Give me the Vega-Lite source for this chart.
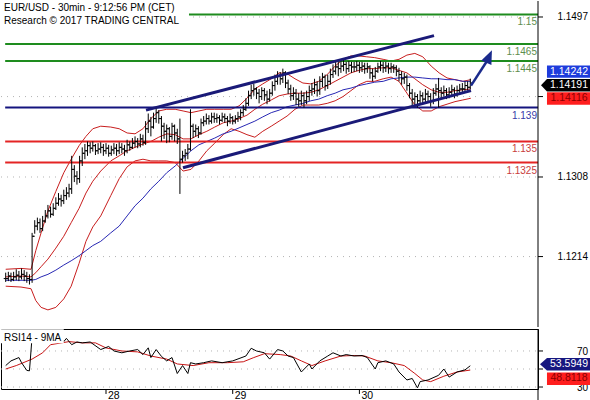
{
  "$schema": "https://vega.github.io/schema/vega-lite/v6.json",
  "padding": 0,
  "spacing": 0,
  "background": "white",
  "config": {"view": {"stroke": null}, "font": "Liberation Sans", "text": {"font": "Liberation Sans"}},
  "datasets": {
    "bars": [
      {"t":5,"o":1.1188,"h":1.1195,"l":1.1184,"c":1.1188},
      {"t":5.5,"o":1.1188,"h":1.1196,"l":1.1185,"c":1.1191},
      {"t":6,"o":1.1191,"h":1.1195,"l":1.1184,"c":1.1187},
      {"t":6.5,"o":1.1187,"h":1.1196,"l":1.1185,"c":1.1190},
      {"t":7,"o":1.1190,"h":1.1199,"l":1.1186,"c":1.1192},
      {"t":7.5,"o":1.1192,"h":1.1197,"l":1.1185,"c":1.1190},
      {"t":8,"o":1.1190,"h":1.1200,"l":1.1187,"c":1.1193},
      {"t":8.5,"o":1.1193,"h":1.1198,"l":1.1185,"c":1.1191},
      {"t":9,"o":1.1191,"h":1.1196,"l":1.1183,"c":1.1188},
      {"t":9.5,"o":1.1188,"h":1.1193,"l":1.1181,"c":1.1187},
      {"t":10,"o":1.1187,"h":1.1242,"l":1.1183,"c":1.1238},
      {"t":10.5,"o":1.1238,"h":1.1257,"l":1.1241,"c":1.1250},
      {"t":11,"o":1.1250,"h":1.1260,"l":1.1245,"c":1.1254},
      {"t":11.5,"o":1.1254,"h":1.1259,"l":1.1242,"c":1.1247},
      {"t":12,"o":1.1247,"h":1.1262,"l":1.1244,"c":1.1256},
      {"t":12.5,"o":1.1256,"h":1.1269,"l":1.1254,"c":1.1262},
      {"t":13,"o":1.1262,"h":1.1275,"l":1.1259,"c":1.1268},
      {"t":13.5,"o":1.1268,"h":1.1273,"l":1.1260,"c":1.1264},
      {"t":14,"o":1.1264,"h":1.1277,"l":1.1262,"c":1.1271},
      {"t":14.5,"o":1.1271,"h":1.1284,"l":1.1269,"c":1.1277},
      {"t":15,"o":1.1277,"h":1.1289,"l":1.1274,"c":1.1282},
      {"t":15.5,"o":1.1282,"h":1.1287,"l":1.1273,"c":1.1280},
      {"t":16,"o":1.1280,"h":1.1293,"l":1.1276,"c":1.1286},
      {"t":16.5,"o":1.1286,"h":1.1296,"l":1.1281,"c":1.1289},
      {"t":17,"o":1.1289,"h":1.1300,"l":1.1284,"c":1.1294},
      {"t":17.5,"o":1.1294,"h":1.1333,"l":1.1288,"c":1.1317},
      {"t":18,"o":1.1317,"h":1.1322,"l":1.1302,"c":1.1309},
      {"t":18.5,"o":1.1309,"h":1.1315,"l":1.1299,"c":1.1306},
      {"t":19,"o":1.1306,"h":1.1333,"l":1.1301,"c":1.1327},
      {"t":19.5,"o":1.1327,"h":1.1343,"l":1.1321,"c":1.1336},
      {"t":20,"o":1.1336,"h":1.1347,"l":1.1329,"c":1.1339},
      {"t":20.5,"o":1.1339,"h":1.1350,"l":1.1333,"c":1.1345},
      {"t":21,"o":1.1345,"h":1.1349,"l":1.1336,"c":1.1342},
      {"t":21.5,"o":1.1342,"h":1.1350,"l":1.1338,"c":1.1345},
      {"t":22,"o":1.1345,"h":1.1347,"l":1.1334,"c":1.1339},
      {"t":22.5,"o":1.1339,"h":1.1348,"l":1.1335,"c":1.1341},
      {"t":23,"o":1.1341,"h":1.1349,"l":1.1336,"c":1.1343},
      {"t":23.5,"o":1.1343,"h":1.1347,"l":1.1333,"c":1.1339},
      {"t":24,"o":1.1339,"h":1.1348,"l":1.1335,"c":1.1342},
      {"t":24.5,"o":1.1342,"h":1.1346,"l":1.1332,"c":1.1336},
      {"t":25,"o":1.1336,"h":1.1345,"l":1.1333,"c":1.1340},
      {"t":25.5,"o":1.1340,"h":1.1348,"l":1.1335,"c":1.1342},
      {"t":26,"o":1.1342,"h":1.1347,"l":1.1333,"c":1.1339},
      {"t":26.5,"o":1.1339,"h":1.1349,"l":1.1335,"c":1.1343},
      {"t":27,"o":1.1343,"h":1.1348,"l":1.1336,"c":1.1341},
      {"t":27.5,"o":1.1341,"h":1.1346,"l":1.1333,"c":1.1339},
      {"t":28,"o":1.1339,"h":1.1352,"l":1.1336,"c":1.1346},
      {"t":28.5,"o":1.1346,"h":1.1350,"l":1.1339,"c":1.1343},
      {"t":29,"o":1.1343,"h":1.1354,"l":1.1341,"c":1.1348},
      {"t":29.5,"o":1.1348,"h":1.1356,"l":1.1343,"c":1.1350},
      {"t":30,"o":1.1350,"h":1.1354,"l":1.1342,"c":1.1347},
      {"t":30.5,"o":1.1347,"h":1.1359,"l":1.1343,"c":1.1353},
      {"t":31,"o":1.1353,"h":1.1358,"l":1.1345,"c":1.1349},
      {"t":31.5,"o":1.1349,"h":1.1374,"l":1.1346,"c":1.1365},
      {"t":32,"o":1.1365,"h":1.1383,"l":1.1360,"c":1.1374},
      {"t":32.5,"o":1.1374,"h":1.1379,"l":1.1356,"c":1.1367},
      {"t":33,"o":1.1367,"h":1.1384,"l":1.1365,"c":1.1377},
      {"t":33.5,"o":1.1377,"h":1.1390,"l":1.1372,"c":1.1384},
      {"t":34,"o":1.1384,"h":1.1387,"l":1.1371,"c":1.1377},
      {"t":34.5,"o":1.1377,"h":1.1380,"l":1.1350,"c":1.1368},
      {"t":35,"o":1.1368,"h":1.1372,"l":1.1353,"c":1.1362},
      {"t":35.5,"o":1.1362,"h":1.1370,"l":1.1348,"c":1.1365},
      {"t":36,"o":1.1365,"h":1.1367,"l":1.1349,"c":1.1356},
      {"t":36.5,"o":1.1356,"h":1.1372,"l":1.1352,"c":1.1368},
      {"t":37,"o":1.1368,"h":1.1370,"l":1.1350,"c":1.1360},
      {"t":37.5,"o":1.1360,"h":1.1365,"l":1.1347,"c":1.1353},
      {"t":38,"o":1.1353,"h":1.1377,"l":1.1288,"c":1.1329},
      {"t":38.5,"o":1.1329,"h":1.1339,"l":1.1325,"c":1.1333},
      {"t":39,"o":1.1333,"h":1.1341,"l":1.1327,"c":1.1336},
      {"t":39.5,"o":1.1336,"h":1.1347,"l":1.1329,"c":1.1341},
      {"t":40,"o":1.1341,"h":1.1388,"l":1.1339,"c":1.1368},
      {"t":40.5,"o":1.1368,"h":1.1371,"l":1.1354,"c":1.1362},
      {"t":41,"o":1.1362,"h":1.1370,"l":1.1356,"c":1.1365},
      {"t":41.5,"o":1.1365,"h":1.1368,"l":1.1354,"c":1.1360},
      {"t":42,"o":1.1360,"h":1.1377,"l":1.1358,"c":1.1372},
      {"t":42.5,"o":1.1372,"h":1.1380,"l":1.1368,"c":1.1374},
      {"t":43,"o":1.1374,"h":1.1383,"l":1.1370,"c":1.1377},
      {"t":43.5,"o":1.1377,"h":1.1381,"l":1.1370,"c":1.1374},
      {"t":44,"o":1.1374,"h":1.1384,"l":1.1371,"c":1.1379},
      {"t":44.5,"o":1.1379,"h":1.1384,"l":1.1372,"c":1.1377},
      {"t":45,"o":1.1377,"h":1.1383,"l":1.1372,"c":1.1378},
      {"t":45.5,"o":1.1378,"h":1.1381,"l":1.1370,"c":1.1375},
      {"t":46,"o":1.1375,"h":1.1384,"l":1.1373,"c":1.1379},
      {"t":46.5,"o":1.1379,"h":1.1383,"l":1.1372,"c":1.1377},
      {"t":47,"o":1.1377,"h":1.1380,"l":1.1368,"c":1.1374},
      {"t":47.5,"o":1.1374,"h":1.1383,"l":1.1371,"c":1.1378},
      {"t":48,"o":1.1378,"h":1.1380,"l":1.1370,"c":1.1374},
      {"t":48.5,"o":1.1374,"h":1.1381,"l":1.1371,"c":1.1377},
      {"t":49,"o":1.1377,"h":1.1385,"l":1.1373,"c":1.1379},
      {"t":49.5,"o":1.1379,"h":1.1388,"l":1.1375,"c":1.1384},
      {"t":50,"o":1.1384,"h":1.1393,"l":1.1380,"c":1.1388},
      {"t":50.5,"o":1.1388,"h":1.1401,"l":1.1386,"c":1.1395},
      {"t":51,"o":1.1395,"h":1.1410,"l":1.1392,"c":1.1404},
      {"t":51.5,"o":1.1404,"h":1.1417,"l":1.1400,"c":1.1410},
      {"t":52,"o":1.1410,"h":1.1418,"l":1.1404,"c":1.1412},
      {"t":52.5,"o":1.1412,"h":1.1414,"l":1.1400,"c":1.1407},
      {"t":53,"o":1.1407,"h":1.1412,"l":1.1395,"c":1.1403},
      {"t":53.5,"o":1.1403,"h":1.1414,"l":1.1399,"c":1.1410},
      {"t":54,"o":1.1410,"h":1.1413,"l":1.1398,"c":1.1405},
      {"t":54.5,"o":1.1405,"h":1.1410,"l":1.1394,"c":1.1400},
      {"t":55,"o":1.1400,"h":1.1412,"l":1.1397,"c":1.1407},
      {"t":55.5,"o":1.1407,"h":1.1421,"l":1.1404,"c":1.1416},
      {"t":56,"o":1.1416,"h":1.1429,"l":1.1410,"c":1.1421},
      {"t":56.5,"o":1.1421,"h":1.1433,"l":1.1417,"c":1.1427},
      {"t":57,"o":1.1427,"h":1.1432,"l":1.1417,"c":1.1424},
      {"t":57.5,"o":1.1424,"h":1.1436,"l":1.1419,"c":1.1431},
      {"t":58,"o":1.1431,"h":1.1433,"l":1.1413,"c":1.1419},
      {"t":58.5,"o":1.1419,"h":1.1423,"l":1.1406,"c":1.1412},
      {"t":59,"o":1.1412,"h":1.1417,"l":1.1398,"c":1.1404},
      {"t":59.5,"o":1.1404,"h":1.1414,"l":1.1399,"c":1.1407},
      {"t":60,"o":1.1407,"h":1.1412,"l":1.1393,"c":1.1400},
      {"t":60.5,"o":1.1400,"h":1.1407,"l":1.1391,"c":1.1398},
      {"t":61,"o":1.1398,"h":1.1410,"l":1.1393,"c":1.1404},
      {"t":61.5,"o":1.1404,"h":1.1408,"l":1.1390,"c":1.1398},
      {"t":62,"o":1.1398,"h":1.1410,"l":1.1394,"c":1.1403},
      {"t":62.5,"o":1.1403,"h":1.1416,"l":1.1398,"c":1.1410},
      {"t":63,"o":1.1410,"h":1.1419,"l":1.1404,"c":1.1412},
      {"t":63.5,"o":1.1412,"h":1.1424,"l":1.1406,"c":1.1417},
      {"t":64,"o":1.1417,"h":1.1421,"l":1.1403,"c":1.1410},
      {"t":64.5,"o":1.1410,"h":1.1427,"l":1.1405,"c":1.1421},
      {"t":65,"o":1.1421,"h":1.1431,"l":1.1414,"c":1.1426},
      {"t":65.5,"o":1.1426,"h":1.1429,"l":1.1410,"c":1.1416},
      {"t":66,"o":1.1416,"h":1.1429,"l":1.1412,"c":1.1421},
      {"t":66.5,"o":1.1421,"h":1.1436,"l":1.1417,"c":1.1429},
      {"t":67,"o":1.1429,"h":1.1441,"l":1.1425,"c":1.1433},
      {"t":67.5,"o":1.1433,"h":1.1446,"l":1.1429,"c":1.1438},
      {"t":68,"o":1.1438,"h":1.1444,"l":1.1427,"c":1.1436},
      {"t":68.5,"o":1.1436,"h":1.1445,"l":1.1431,"c":1.1439},
      {"t":69,"o":1.1439,"h":1.1447,"l":1.1433,"c":1.1441},
      {"t":69.5,"o":1.1441,"h":1.1444,"l":1.1430,"c":1.1436},
      {"t":70,"o":1.1436,"h":1.1445,"l":1.1432,"c":1.1440},
      {"t":70.5,"o":1.1440,"h":1.1444,"l":1.1431,"c":1.1438},
      {"t":71,"o":1.1438,"h":1.1444,"l":1.1432,"c":1.1438},
      {"t":71.5,"o":1.1438,"h":1.1445,"l":1.1433,"c":1.1440},
      {"t":72,"o":1.1440,"h":1.1444,"l":1.1431,"c":1.1437},
      {"t":72.5,"o":1.1437,"h":1.1444,"l":1.1432,"c":1.1439},
      {"t":73,"o":1.1439,"h":1.1443,"l":1.1430,"c":1.1436},
      {"t":73.5,"o":1.1436,"h":1.1443,"l":1.1431,"c":1.1438},
      {"t":74,"o":1.1438,"h":1.1440,"l":1.1424,"c":1.1431},
      {"t":74.5,"o":1.1431,"h":1.1436,"l":1.1421,"c":1.1427},
      {"t":75,"o":1.1427,"h":1.1438,"l":1.1424,"c":1.1433},
      {"t":75.5,"o":1.1433,"h":1.1443,"l":1.1431,"c":1.1438},
      {"t":76,"o":1.1438,"h":1.1445,"l":1.1433,"c":1.1440},
      {"t":76.5,"o":1.1440,"h":1.1444,"l":1.1431,"c":1.1437},
      {"t":77,"o":1.1437,"h":1.1444,"l":1.1432,"c":1.1439},
      {"t":77.5,"o":1.1439,"h":1.1443,"l":1.1430,"c":1.1436},
      {"t":78,"o":1.1436,"h":1.1443,"l":1.1431,"c":1.1438},
      {"t":78.5,"o":1.1438,"h":1.1441,"l":1.1431,"c":1.1437},
      {"t":79,"o":1.1437,"h":1.1440,"l":1.1427,"c":1.1433},
      {"t":79.5,"o":1.1433,"h":1.1437,"l":1.1421,"c":1.1429},
      {"t":80,"o":1.1429,"h":1.1433,"l":1.1417,"c":1.1424},
      {"t":80.5,"o":1.1424,"h":1.1431,"l":1.1418,"c":1.1426},
      {"t":81,"o":1.1426,"h":1.1429,"l":1.1410,"c":1.1416},
      {"t":81.5,"o":1.1416,"h":1.1419,"l":1.1401,"c":1.1407},
      {"t":82,"o":1.1407,"h":1.1412,"l":1.1393,"c":1.1400},
      {"t":82.5,"o":1.1400,"h":1.1408,"l":1.1394,"c":1.1403},
      {"t":83,"o":1.1403,"h":1.1406,"l":1.1390,"c":1.1398},
      {"t":83.5,"o":1.1398,"h":1.1410,"l":1.1393,"c":1.1404},
      {"t":84,"o":1.1404,"h":1.1408,"l":1.1394,"c":1.1400},
      {"t":84.5,"o":1.1400,"h":1.1412,"l":1.1395,"c":1.1406},
      {"t":85,"o":1.1406,"h":1.1410,"l":1.1397,"c":1.1403},
      {"t":85.5,"o":1.1403,"h":1.1407,"l":1.1391,"c":1.1398},
      {"t":86,"o":1.1398,"h":1.1413,"l":1.1394,"c":1.1407},
      {"t":86.5,"o":1.1407,"h":1.1418,"l":1.1404,"c":1.1412},
      {"t":87,"o":1.1412,"h":1.1425,"l":1.1390,"c":1.1410},
      {"t":87.5,"o":1.1410,"h":1.1414,"l":1.1401,"c":1.1407},
      {"t":88,"o":1.1407,"h":1.1416,"l":1.1403,"c":1.1410},
      {"t":88.5,"o":1.1410,"h":1.1413,"l":1.1400,"c":1.1405},
      {"t":89,"o":1.1405,"h":1.1414,"l":1.1401,"c":1.1408},
      {"t":89.5,"o":1.1408,"h":1.1417,"l":1.1404,"c":1.1411},
      {"t":90,"o":1.1411,"h":1.1414,"l":1.1401,"c":1.1406},
      {"t":90.5,"o":1.1406,"h":1.1416,"l":1.1403,"c":1.1410},
      {"t":91,"o":1.1410,"h":1.1418,"l":1.1405,"c":1.1412},
      {"t":91.5,"o":1.1412,"h":1.1419,"l":1.1406,"c":1.1412},
      {"t":92,"o":1.1412,"h":1.1421,"l":1.1408,"c":1.1416},
      {"t":92.5,"o":1.1416,"h":1.1421,"l":1.1410,"c":1.1414},
      {"t":93,"o":1.1414,"h":1.14242,"l":1.14116,"c":1.14191}
    ],
    "bands": [
      {"t":5,"up":1.1199,"mid":1.1190,"lo":1.1179,"ma":1.1186},
      {"t":7.9,"up":1.1200,"mid":1.1191,"lo":1.1178,"ma":1.1186},
      {"t":9.8,"up":1.1199,"mid":1.1190,"lo":1.1176,"ma":1.1186},
      {"t":10.7,"up":1.1221,"mid":1.1195,"lo":1.1162,"ma":1.1187},
      {"t":11.7,"up":1.1242,"mid":1.1202,"lo":1.1154,"ma":1.1190},
      {"t":13,"up":1.1268,"mid":1.1211,"lo":1.1151,"ma":1.1193},
      {"t":14.5,"up":1.1291,"mid":1.1224,"lo":1.1154,"ma":1.1198},
      {"t":16,"up":1.1313,"mid":1.1238,"lo":1.1164,"ma":1.1204},
      {"t":17.4,"up":1.1329,"mid":1.1254,"lo":1.1179,"ma":1.1209},
      {"t":18.9,"up":1.1345,"mid":1.1271,"lo":1.1206,"ma":1.1215},
      {"t":20.2,"up":1.1356,"mid":1.1289,"lo":1.1232,"ma":1.1221},
      {"t":21.5,"up":1.1365,"mid":1.1303,"lo":1.1249,"ma":1.1227},
      {"t":23,"up":1.1368,"mid":1.1315,"lo":1.1262,"ma":1.1232},
      {"t":24.9,"up":1.1367,"mid":1.1327,"lo":1.1286,"ma":1.1242},
      {"t":26.5,"up":1.1365,"mid":1.1333,"lo":1.1306,"ma":1.1250},
      {"t":28,"up":1.1360,"mid":1.1339,"lo":1.1320,"ma":1.1262},
      {"t":29.5,"up":1.1359,"mid":1.1343,"lo":1.1327,"ma":1.1274},
      {"t":31,"up":1.1365,"mid":1.1347,"lo":1.1329,"ma":1.1283},
      {"t":32.5,"up":1.1377,"mid":1.1350,"lo":1.1327,"ma":1.1294},
      {"t":34,"up":1.1386,"mid":1.1355,"lo":1.1327,"ma":1.1303},
      {"t":35.5,"up":1.1388,"mid":1.1359,"lo":1.1327,"ma":1.1313},
      {"t":37.1,"up":1.1388,"mid":1.1358,"lo":1.1325,"ma":1.1321},
      {"t":38.6,"up":1.1386,"mid":1.1353,"lo":1.1315,"ma":1.1330},
      {"t":40.1,"up":1.1384,"mid":1.1353,"lo":1.1317,"ma":1.1339},
      {"t":41.6,"up":1.1386,"mid":1.1358,"lo":1.1327,"ma":1.1346},
      {"t":43.1,"up":1.1388,"mid":1.1362,"lo":1.1339,"ma":1.1350},
      {"t":44.6,"up":1.1388,"mid":1.1367,"lo":1.1348,"ma":1.1354},
      {"t":46.2,"up":1.1388,"mid":1.1372,"lo":1.1358,"ma":1.1359},
      {"t":47.7,"up":1.1388,"mid":1.1374,"lo":1.1365,"ma":1.1362},
      {"t":49.2,"up":1.1392,"mid":1.1377,"lo":1.1362,"ma":1.1366},
      {"t":50.7,"up":1.1401,"mid":1.1381,"lo":1.1358,"ma":1.1370},
      {"t":52.2,"up":1.1412,"mid":1.1388,"lo":1.1355,"ma":1.1374},
      {"t":53.7,"up":1.1418,"mid":1.1394,"lo":1.1362,"ma":1.1379},
      {"t":55.3,"up":1.1424,"mid":1.1399,"lo":1.1368,"ma":1.1384},
      {"t":56.8,"up":1.1431,"mid":1.1404,"lo":1.1374,"ma":1.1387},
      {"t":58.3,"up":1.1430,"mid":1.1406,"lo":1.1380,"ma":1.1391},
      {"t":59.8,"up":1.1424,"mid":1.1407,"lo":1.1388,"ma":1.1393},
      {"t":61.3,"up":1.1419,"mid":1.1407,"lo":1.1393,"ma":1.1395},
      {"t":62.8,"up":1.1418,"mid":1.1408,"lo":1.1393,"ma":1.1398},
      {"t":64.3,"up":1.1421,"mid":1.1411,"lo":1.1393,"ma":1.1400},
      {"t":65.9,"up":1.1429,"mid":1.1416,"lo":1.1395,"ma":1.1404},
      {"t":67.4,"up":1.1439,"mid":1.1421,"lo":1.1398,"ma":1.1407},
      {"t":68.9,"up":1.1447,"mid":1.1426,"lo":1.1403,"ma":1.1411},
      {"t":70.4,"up":1.1451,"mid":1.1431,"lo":1.1410,"ma":1.1413},
      {"t":71.9,"up":1.1451,"mid":1.1434,"lo":1.1417,"ma":1.1416},
      {"t":73.4,"up":1.1450,"mid":1.1436,"lo":1.1421,"ma":1.1418},
      {"t":74.9,"up":1.1449,"mid":1.1436,"lo":1.1421,"ma":1.1420},
      {"t":76.5,"up":1.1447,"mid":1.1437,"lo":1.1424,"ma":1.1421},
      {"t":78,"up":1.1445,"mid":1.1437,"lo":1.1426,"ma":1.1424},
      {"t":79.5,"up":1.1447,"mid":1.1434,"lo":1.1421,"ma":1.1425},
      {"t":81,"up":1.1452,"mid":1.1431,"lo":1.1407,"ma":1.1426},
      {"t":82.5,"up":1.1454,"mid":1.1424,"lo":1.1393,"ma":1.1426},
      {"t":84,"up":1.1450,"mid":1.1417,"lo":1.1386,"ma":1.1425},
      {"t":85.6,"up":1.1439,"mid":1.1411,"lo":1.1386,"ma":1.1424},
      {"t":87.1,"up":1.1431,"mid":1.1408,"lo":1.1391,"ma":1.1424},
      {"t":88.6,"up":1.1425,"mid":1.1408,"lo":1.1394,"ma":1.1423},
      {"t":90.1,"up":1.1423,"mid":1.1410,"lo":1.1397,"ma":1.1423},
      {"t":91.6,"up":1.1421,"mid":1.1411,"lo":1.1399,"ma":1.1421},
      {"t":93.1,"up":1.1423,"mid":1.1412,"lo":1.1401,"ma":1.1421}
    ],
    "levels": [
      {"p":1.15,"lab":"1.15","grp":"g"},
      {"p":1.1465,"lab":"1.1465","grp":"g"},
      {"p":1.1445,"lab":"1.1445","grp":"g"},
      {"p":1.139,"lab":"1.139","grp":"b"},
      {"p":1.135,"lab":"1.135","grp":"r"},
      {"p":1.1325,"lab":"1.1325","grp":"r"}
    ],
    "pticks": [
      {"p":1.1214},
      {"p":1.1308},
      {"p":1.1403},
      {"p":1.1497}
    ],
    "plabels": [
      {"p":1.1214,"lab":"1.1214"},
      {"p":1.1308,"lab":"1.1308"},
      {"p":1.1497,"lab":"1.1497"}
    ],
    "rticks": [
      {"v":30},
      {"v":50},
      {"v":70}
    ],
    "rlabels": [
      {"v":30,"lab":"30"},
      {"v":70,"lab":"70"}
    ],
    "days": [
      {"t":24,"lab":"28"},
      {"t":48,"lab":"29"},
      {"t":72,"lab":"30"}
    ],
    "trends": [
      {"t1":31.58,"p1":1.1387,"t2":86.13,"p2":1.1475},
      {"t1":38.58,"p1":1.1319,"t2":93.14,"p2":1.1410}
    ],
    "rsi": [
      {"t":5,"v":53.8},{"t":6,"v":59},{"t":7.5,"v":62.7},{"t":8,"v":57},{"t":9,"v":48.4},{"t":9.5,"v":48},
      {"t":10,"v":86},{"t":10.5,"v":90},{"t":11.5,"v":92},{"t":12.5,"v":91},{"t":13.5,"v":90},{"t":14.5,"v":88},
      {"t":15.5,"v":84},{"t":16,"v":80.4},{"t":16.5,"v":84},{"t":17.5,"v":77},{"t":18.5,"v":80},{"t":19.5,"v":79},
      {"t":21,"v":80},{"t":23,"v":71.6},{"t":24.5,"v":75},{"t":25.5,"v":70},{"t":27,"v":68},{"t":28.5,"v":70},
      {"t":30,"v":71.6},{"t":31,"v":66},{"t":32,"v":73.5},{"t":32.5,"v":62.7},{"t":33.5,"v":71.6},{"t":34.5,"v":64},
      {"t":35.5,"v":59},{"t":36.5,"v":62.7},{"t":37.5,"v":45},{"t":38.5,"v":53.8},{"t":39.5,"v":45},{"t":40,"v":57},
      {"t":41,"v":55.6},{"t":42.5,"v":57},{"t":44,"v":59},{"t":46,"v":57},{"t":48,"v":59},{"t":50.5,"v":64.4},
      {"t":51.5,"v":73},{"t":52.5,"v":70},{"t":54,"v":68},{"t":55,"v":61},{"t":56.5,"v":71.6},{"t":57.5,"v":70},
      {"t":58.5,"v":64.4},{"t":59.5,"v":62.7},{"t":61,"v":46.7},{"t":62.5,"v":55.6},{"t":63,"v":50},{"t":64.5,"v":59},
      {"t":66,"v":64.4},{"t":67,"v":68},{"t":68.5,"v":64.4},{"t":69.5,"v":66},{"t":71,"v":64.4},{"t":72.5,"v":65},
      {"t":73.5,"v":62.7},{"t":75,"v":50},{"t":75.5,"v":57},{"t":77,"v":59},{"t":78.5,"v":55.6},{"t":79.5,"v":46.7},
      {"t":81,"v":37.8},{"t":82,"v":39.5},{"t":83,"v":29},{"t":83.5,"v":36},{"t":85,"v":37.8},{"t":87,"v":43},
      {"t":88,"v":50},{"t":89,"v":41},{"t":90.5,"v":46.7},{"t":92,"v":49},{"t":93,"v":53.5949}
    ],
    "rsima": [
      {"t":5,"v":50},{"t":7,"v":53.8},{"t":10,"v":61},{"t":12,"v":68},{"t":13.5,"v":77},{"t":17,"v":80.4},
      {"t":19.5,"v":79},{"t":22,"v":79},{"t":24,"v":73.4},{"t":27,"v":70},{"t":30,"v":69},{"t":32.5,"v":64.4},
      {"t":35.5,"v":61},{"t":37.5,"v":55.6},{"t":40.5,"v":53.8},{"t":43.5,"v":57},{"t":47,"v":57},{"t":50,"v":58},
      {"t":52,"v":62.7},{"t":54,"v":67},{"t":57,"v":66},{"t":59,"v":64.4},{"t":61,"v":59},{"t":63,"v":53.8},
      {"t":65.5,"v":59},{"t":68.5,"v":64.4},{"t":71,"v":65},{"t":73,"v":64.4},{"t":75.5,"v":59},{"t":78,"v":57},
      {"t":80.5,"v":53.8},{"t":82.5,"v":45},{"t":84,"v":37.8},{"t":85.5,"v":36},{"t":88,"v":42},{"t":90.5,"v":46.7},
      {"t":93,"v":48.8118}
    ],
    "one": [{"k": 1}]
  },
  "vconcat": [
    {
      "width": 537,
      "height": 326,
      "layer": [
        {
          "data": {"name": "pticks"},
          "mark": {"type": "rule", "color": "#b4b4b4", "strokeWidth": 1, "strokeDash": [1, 5]},
          "encoding": {
            "x": {"datum": 4.11, "type": "quantitative", "scale": {"domain": [4.11, 105.83], "nice": false, "zero": false}, "axis": null},
            "x2": {"datum": 105.83},
            "y": {"field": "p", "type": "quantitative", "scale": {"domain": [1.11308, 1.15159], "nice": false, "zero": false}, "axis": null}
          }
        },
        {
          "data": {"name": "bands"},
          "mark": {"type": "line", "color": "#c81e1e", "strokeWidth": 1, "clip": true},
          "encoding": {
            "x": {"field": "t", "type": "quantitative", "scale": {"domain": [4.11, 105.83], "nice": false, "zero": false}, "axis": null},
            "y": {"field": "up", "type": "quantitative", "scale": {"domain": [1.11308, 1.15159], "nice": false, "zero": false}, "axis": null}
          }
        },
        {
          "data": {"name": "bands"},
          "mark": {"type": "line", "color": "#c81e1e", "strokeWidth": 1, "clip": true},
          "encoding": {
            "x": {"field": "t", "type": "quantitative", "scale": {"domain": [4.11, 105.83], "nice": false, "zero": false}, "axis": null},
            "y": {"field": "mid", "type": "quantitative", "scale": {"domain": [1.11308, 1.15159], "nice": false, "zero": false}, "axis": null}
          }
        },
        {
          "data": {"name": "bands"},
          "mark": {"type": "line", "color": "#c81e1e", "strokeWidth": 1, "clip": true},
          "encoding": {
            "x": {"field": "t", "type": "quantitative", "scale": {"domain": [4.11, 105.83], "nice": false, "zero": false}, "axis": null},
            "y": {"field": "lo", "type": "quantitative", "scale": {"domain": [1.11308, 1.15159], "nice": false, "zero": false}, "axis": null}
          }
        },
        {
          "data": {"name": "bands"},
          "mark": {"type": "line", "color": "#2828b4", "strokeWidth": 1, "clip": true},
          "encoding": {
            "x": {"field": "t", "type": "quantitative", "scale": {"domain": [4.11, 105.83], "nice": false, "zero": false}, "axis": null},
            "y": {"field": "ma", "type": "quantitative", "scale": {"domain": [1.11308, 1.15159], "nice": false, "zero": false}, "axis": null}
          }
        },
        {
          "data": {"name": "levels"},
          "mark": {"type": "rule", "strokeWidth": 2},
          "encoding": {
            "x": {"datum": 4.9, "type": "quantitative", "scale": {"domain": [4.11, 105.83], "nice": false, "zero": false}, "axis": null},
            "x2": {"datum": 105.83},
            "y": {"field": "p", "type": "quantitative", "scale": {"domain": [1.11308, 1.15159], "nice": false, "zero": false}, "axis": null},
            "stroke": {"field": "grp", "type": "nominal", "scale": {"domain": ["g", "b", "r"], "range": ["#1e8c1e", "#14147e", "#e42424"]}, "legend": null}
          }
        },
        {
          "data": {"name": "bars"},
          "mark": {"type": "rule", "color": "#000000", "strokeWidth": 1},
          "encoding": {
            "x": {"field": "t", "type": "quantitative", "scale": {"domain": [4.11, 105.83], "nice": false, "zero": false}, "axis": null},
            "y": {"field": "l", "type": "quantitative", "scale": {"domain": [1.11308, 1.15159], "nice": false, "zero": false}, "axis": null},
            "y2": {"field": "h"}
          }
        },
        {
          "data": {"name": "bars"},
          "mark": {"type": "point", "shape": "M-1,0L0,0", "size": 16, "filled": false, "stroke": "#000000", "strokeWidth": 1, "opacity": 1},
          "encoding": {
            "x": {"field": "t", "type": "quantitative", "scale": {"domain": [4.11, 105.83], "nice": false, "zero": false}, "axis": null},
            "y": {"field": "o", "type": "quantitative", "scale": {"domain": [1.11308, 1.15159], "nice": false, "zero": false}, "axis": null}
          }
        },
        {
          "data": {"name": "bars"},
          "mark": {"type": "point", "shape": "M0,0L1,0", "size": 16, "filled": false, "stroke": "#000000", "strokeWidth": 1, "opacity": 1},
          "encoding": {
            "x": {"field": "t", "type": "quantitative", "scale": {"domain": [4.11, 105.83], "nice": false, "zero": false}, "axis": null},
            "y": {"field": "c", "type": "quantitative", "scale": {"domain": [1.11308, 1.15159], "nice": false, "zero": false}, "axis": null}
          }
        },
        {
          "data": {"name": "trends"},
          "mark": {"type": "rule", "color": "#1a1a78", "strokeWidth": 3},
          "encoding": {
            "x": {"field": "t1", "type": "quantitative", "scale": {"domain": [4.11, 105.83], "nice": false, "zero": false}, "axis": null},
            "x2": {"field": "t2"},
            "y": {"field": "p1", "type": "quantitative", "scale": {"domain": [1.11308, 1.15159], "nice": false, "zero": false}, "axis": null},
            "y2": {"field": "p2"}
          }
        },
        {
          "data": {"values": [{"t1": 93.14, "p1": 1.1416, "t2": 96.17, "p2": 1.1445}]},
          "mark": {"type": "rule", "color": "#1a2a8c", "strokeWidth": 2.5},
          "encoding": {
            "x": {"field": "t1", "type": "quantitative", "scale": {"domain": [4.11, 105.83], "nice": false, "zero": false}, "axis": null},
            "x2": {"field": "t2"},
            "y": {"field": "p1", "type": "quantitative", "scale": {"domain": [1.11308, 1.15159], "nice": false, "zero": false}, "axis": null},
            "y2": {"field": "p2"}
          }
        },
        {
          "data": {"values": [{"t": 96.55, "p": 1.1450}]},
          "mark": {"type": "point", "shape": "M0,-1.1L0.85,1L-0.85,1Z", "size": 169, "filled": true, "fill": "#1a2a8c", "opacity": 1, "angle": 24},
          "encoding": {
            "x": {"field": "t", "type": "quantitative", "scale": {"domain": [4.11, 105.83], "nice": false, "zero": false}, "axis": null},
            "y": {"field": "p", "type": "quantitative", "scale": {"domain": [1.11308, 1.15159], "nice": false, "zero": false}, "axis": null}
          }
        },
        {
          "data": {"name": "levels"},
          "mark": {"type": "text", "align": "right", "baseline": "top", "dx": -1, "dy": 3, "fontSize": 10},
          "encoding": {
            "x": {"datum": 105.83, "type": "quantitative", "scale": {"domain": [4.11, 105.83], "nice": false, "zero": false}, "axis": null},
            "y": {"field": "p", "type": "quantitative", "scale": {"domain": [1.11308, 1.15159], "nice": false, "zero": false}, "axis": null},
            "text": {"field": "lab"},
            "color": {"field": "grp", "type": "nominal", "scale": {"domain": ["g", "b", "r"], "range": ["#5e8e4e", "#3838a8", "#c83c3c"]}, "legend": null}
          }
        },
        {
          "data": {"name": "one"},
          "mark": {"type": "rule", "color": "#000000", "strokeWidth": 1},
          "encoding": {
            "x": {"datum": 105.83, "type": "quantitative", "scale": {"domain": [4.11, 105.83], "nice": false, "zero": false}, "axis": null},
            "y": {"datum": 1.11308, "type": "quantitative", "scale": {"domain": [1.11308, 1.15159], "nice": false, "zero": false}, "axis": null},
            "y2": {"datum": 1.15159}
          }
        },
        {
          "data": {"name": "pticks"},
          "mark": {"type": "rule", "color": "#000000", "strokeWidth": 1},
          "encoding": {
            "x": {"datum": 105.83, "type": "quantitative", "scale": {"domain": [4.11, 105.83], "nice": false, "zero": false}, "axis": null},
            "x2": {"datum": 106.78},
            "y": {"field": "p", "type": "quantitative", "scale": {"domain": [1.11308, 1.15159], "nice": false, "zero": false}, "axis": null}
          }
        },
        {
          "data": {"name": "plabels"},
          "mark": {"type": "text", "align": "right", "baseline": "middle", "dx": 50, "fontSize": 10, "color": "#000000"},
          "encoding": {
            "x": {"datum": 105.83, "type": "quantitative", "scale": {"domain": [4.11, 105.83], "nice": false, "zero": false}, "axis": null},
            "y": {"field": "p", "type": "quantitative", "scale": {"domain": [1.11308, 1.15159], "nice": false, "zero": false}, "axis": null},
            "text": {"field": "lab"}
          }
        },
        {
          "data": {"values": [{"v": 1.14242, "txt": "1.14242"}]},
          "layer": [
            {"mark": {"type": "point", "shape": "M1.38,-2.03H8.2V-0.12H1.38Z", "size": 169, "filled": true, "fill": "#1e3cdc", "opacity": 1}},
            {"mark": {"type": "text", "color": "#ffffff", "dx": 31, "dy": -7, "align": "center", "baseline": "middle", "fontSize": 10.5}, "encoding": {"text": {"field": "txt"}}}
          ],
          "encoding": {
            "x": {"datum": 105.83, "type": "quantitative", "scale": {"domain": [4.11, 105.83], "nice": false, "zero": false}, "axis": null},
            "y": {"field": "v", "type": "quantitative", "scale": {"domain": [1.11308, 1.15159], "nice": false, "zero": false}, "axis": null}
          }
        },
        {
          "data": {"values": [{"v": 1.14191, "txt": "1.14191"}]},
          "layer": [
            {"mark": {"type": "point", "shape": "M0.46,0.354L1.38,-0.6H8.2V1.31H1.38Z", "size": 169, "filled": true, "fill": "#000000", "opacity": 1}},
            {"mark": {"type": "text", "color": "#ffffff", "dx": 31, "dy": 2.3, "align": "center", "baseline": "middle", "fontSize": 10.5}, "encoding": {"text": {"field": "txt"}}}
          ],
          "encoding": {
            "x": {"datum": 105.83, "type": "quantitative", "scale": {"domain": [4.11, 105.83], "nice": false, "zero": false}, "axis": null},
            "y": {"field": "v", "type": "quantitative", "scale": {"domain": [1.11308, 1.15159], "nice": false, "zero": false}, "axis": null}
          }
        },
        {
          "data": {"values": [{"v": 1.14116, "txt": "1.14116"}]},
          "layer": [
            {"mark": {"type": "point", "shape": "M1.38,0.46H8.2V2.37H1.38Z", "size": 169, "filled": true, "fill": "#ff1e1e", "opacity": 1}},
            {"mark": {"type": "text", "color": "#8c0000", "dx": 31, "dy": 9.2, "align": "center", "baseline": "middle", "fontSize": 10.5}, "encoding": {"text": {"field": "txt"}}}
          ],
          "encoding": {
            "x": {"datum": 105.83, "type": "quantitative", "scale": {"domain": [4.11, 105.83], "nice": false, "zero": false}, "axis": null},
            "y": {"field": "v", "type": "quantitative", "scale": {"domain": [1.11308, 1.15159], "nice": false, "zero": false}, "axis": null}
          }
        },
        {
          "data": {"name": "one"},
          "mark": {"type": "rect", "color": "#ffffff", "opacity": 1},
          "encoding": {
            "x": {"datum": 4.11, "type": "quantitative", "scale": {"domain": [4.11, 105.83], "nice": false, "zero": false}, "axis": null},
            "x2": {"datum": 39.72},
            "y": {"datum": 1.15159, "type": "quantitative", "scale": {"domain": [1.11308, 1.15159], "nice": false, "zero": false}, "axis": null},
            "y2": {"datum": 1.1484}
          }
        },
        {
          "data": {"name": "one"},
          "mark": {"type": "text", "text": ["EUR/USD - 30min - 9:12:56 PM (CET)", "Research © 2017 TRADING CENTRAL"], "align": "left", "baseline": "alphabetic", "fontSize": 10, "lineHeight": 13.5, "color": "#000000"},
          "encoding": {
            "x": {"datum": 4.68, "type": "quantitative", "scale": {"domain": [4.11, 105.83], "nice": false, "zero": false}, "axis": null},
            "y": {"datum": 1.15041, "type": "quantitative", "scale": {"domain": [1.11308, 1.15159], "nice": false, "zero": false}, "axis": null}
          }
        }
      ]
    },
    {
      "width": 537,
      "height": 60,
      "view": {"stroke": "#000000", "strokeWidth": 1},
      "layer": [
        {
          "data": {"name": "rticks"},
          "mark": {"type": "rule", "color": "#b4b4b4", "strokeWidth": 1, "strokeDash": [1, 5]},
          "encoding": {
            "x": {"datum": 4.11, "type": "quantitative", "scale": {"domain": [4.11, 105.83], "nice": false, "zero": false}, "axis": null},
            "x2": {"datum": 105.83},
            "y": {"field": "v", "type": "quantitative", "scale": {"domain": [27.8, 94.4], "nice": false, "zero": false}, "axis": null}
          }
        },
        {
          "data": {"name": "rsima"},
          "mark": {"type": "line", "color": "#c81414", "strokeWidth": 1, "clip": true},
          "encoding": {
            "x": {"field": "t", "type": "quantitative", "scale": {"domain": [4.11, 105.83], "nice": false, "zero": false}, "axis": null},
            "y": {"field": "v", "type": "quantitative", "scale": {"domain": [27.8, 94.4], "nice": false, "zero": false}, "axis": null}
          }
        },
        {
          "data": {"name": "rsi"},
          "mark": {"type": "line", "color": "#000000", "strokeWidth": 1, "clip": true},
          "encoding": {
            "x": {"field": "t", "type": "quantitative", "scale": {"domain": [4.11, 105.83], "nice": false, "zero": false}, "axis": null},
            "y": {"field": "v", "type": "quantitative", "scale": {"domain": [27.8, 94.4], "nice": false, "zero": false}, "axis": null}
          }
        },
        {
          "data": {"name": "one"},
          "mark": {"type": "rect", "color": "#ffffff", "opacity": 1},
          "encoding": {
            "x": {"datum": 4.11, "type": "quantitative", "scale": {"domain": [4.11, 105.83], "nice": false, "zero": false}, "axis": null},
            "x2": {"datum": 16.0},
            "y": {"datum": 94.0, "type": "quantitative", "scale": {"domain": [27.8, 94.4], "nice": false, "zero": false}, "axis": null},
            "y2": {"datum": 78.5}
          }
        },
        {
          "data": {"name": "one"},
          "mark": {"type": "text", "text": "RSI14 - 9MA", "align": "left", "baseline": "alphabetic", "fontSize": 10, "color": "#000000"},
          "encoding": {
            "x": {"datum": 4.68, "type": "quantitative", "scale": {"domain": [4.11, 105.83], "nice": false, "zero": false}, "axis": null},
            "y": {"datum": 81.07, "type": "quantitative", "scale": {"domain": [27.8, 94.4], "nice": false, "zero": false}, "axis": null}
          }
        },
        {
          "data": {"name": "one"},
          "mark": {"type": "rule", "color": "#000000", "strokeWidth": 1},
          "encoding": {
            "x": {"datum": 105.83, "type": "quantitative", "scale": {"domain": [4.11, 105.83], "nice": false, "zero": false}, "axis": null},
            "y": {"datum": 12.5, "type": "quantitative", "scale": {"domain": [27.8, 94.4], "nice": false, "zero": false}, "axis": null},
            "y2": {"datum": 94.4}
          }
        },
        {
          "data": {"name": "rticks"},
          "mark": {"type": "rule", "color": "#000000", "strokeWidth": 1},
          "encoding": {
            "x": {"datum": 105.83, "type": "quantitative", "scale": {"domain": [4.11, 105.83], "nice": false, "zero": false}, "axis": null},
            "x2": {"datum": 106.78},
            "y": {"field": "v", "type": "quantitative", "scale": {"domain": [27.8, 94.4], "nice": false, "zero": false}, "axis": null}
          }
        },
        {
          "data": {"name": "rlabels"},
          "mark": {"type": "text", "align": "right", "baseline": "middle", "dx": 50, "dy": 1, "fontSize": 10, "color": "#000000"},
          "encoding": {
            "x": {"datum": 105.83, "type": "quantitative", "scale": {"domain": [4.11, 105.83], "nice": false, "zero": false}, "axis": null},
            "y": {"field": "v", "type": "quantitative", "scale": {"domain": [27.8, 94.4], "nice": false, "zero": false}, "axis": null},
            "text": {"field": "lab"}
          }
        },
        {
          "data": {"name": "days"},
          "mark": {"type": "rule", "color": "#000000", "strokeWidth": 1},
          "encoding": {
            "x": {"field": "t", "type": "quantitative", "scale": {"domain": [4.11, 105.83], "nice": false, "zero": false}, "axis": null},
            "y": {"datum": 27.8, "type": "quantitative", "scale": {"domain": [27.8, 94.4], "nice": false, "zero": false}, "axis": null},
            "y2": {"datum": 22.3}
          }
        },
        {
          "data": {"name": "days"},
          "mark": {"type": "text", "align": "left", "baseline": "top", "dx": 2, "dy": 2, "fontSize": 10.5, "color": "#000000"},
          "encoding": {
            "x": {"field": "t", "type": "quantitative", "scale": {"domain": [4.11, 105.83], "nice": false, "zero": false}, "axis": null},
            "y": {"datum": 27.8, "type": "quantitative", "scale": {"domain": [27.8, 94.4], "nice": false, "zero": false}, "axis": null},
            "text": {"field": "lab"}
          }
        },
        {
          "data": {"values": [{"v": 53.5949, "txt": "53.5949"}]},
          "layer": [
            {"mark": {"type": "point", "shape": "M0.31,-0.23L1.38,-1.18H8.2V0.72H1.38Z", "size": 169, "filled": true, "fill": "#17177f", "opacity": 1}},
            {"mark": {"type": "text", "color": "#ffffff", "dx": 31, "dy": -1.5, "align": "center", "baseline": "middle", "fontSize": 10.5}, "encoding": {"text": {"field": "txt"}}}
          ],
          "encoding": {
            "x": {"datum": 105.83, "type": "quantitative", "scale": {"domain": [4.11, 105.83], "nice": false, "zero": false}, "axis": null},
            "y": {"field": "v", "type": "quantitative", "scale": {"domain": [27.8, 94.4], "nice": false, "zero": false}, "axis": null}
          }
        },
        {
          "data": {"values": [{"v": 48.8118, "txt": "48.8118"}]},
          "layer": [
            {"mark": {"type": "point", "shape": "M1.38,0.38H8.2V2.29H1.38Z", "size": 169, "filled": true, "fill": "#ff1e1e", "opacity": 1}},
            {"mark": {"type": "text", "color": "#8c0000", "dx": 31, "dy": 8.2, "align": "center", "baseline": "middle", "fontSize": 10.5}, "encoding": {"text": {"field": "txt"}}}
          ],
          "encoding": {
            "x": {"datum": 105.83, "type": "quantitative", "scale": {"domain": [4.11, 105.83], "nice": false, "zero": false}, "axis": null},
            "y": {"field": "v", "type": "quantitative", "scale": {"domain": [27.8, 94.4], "nice": false, "zero": false}, "axis": null}
          }
        }
      ]
    }
  ]
}
